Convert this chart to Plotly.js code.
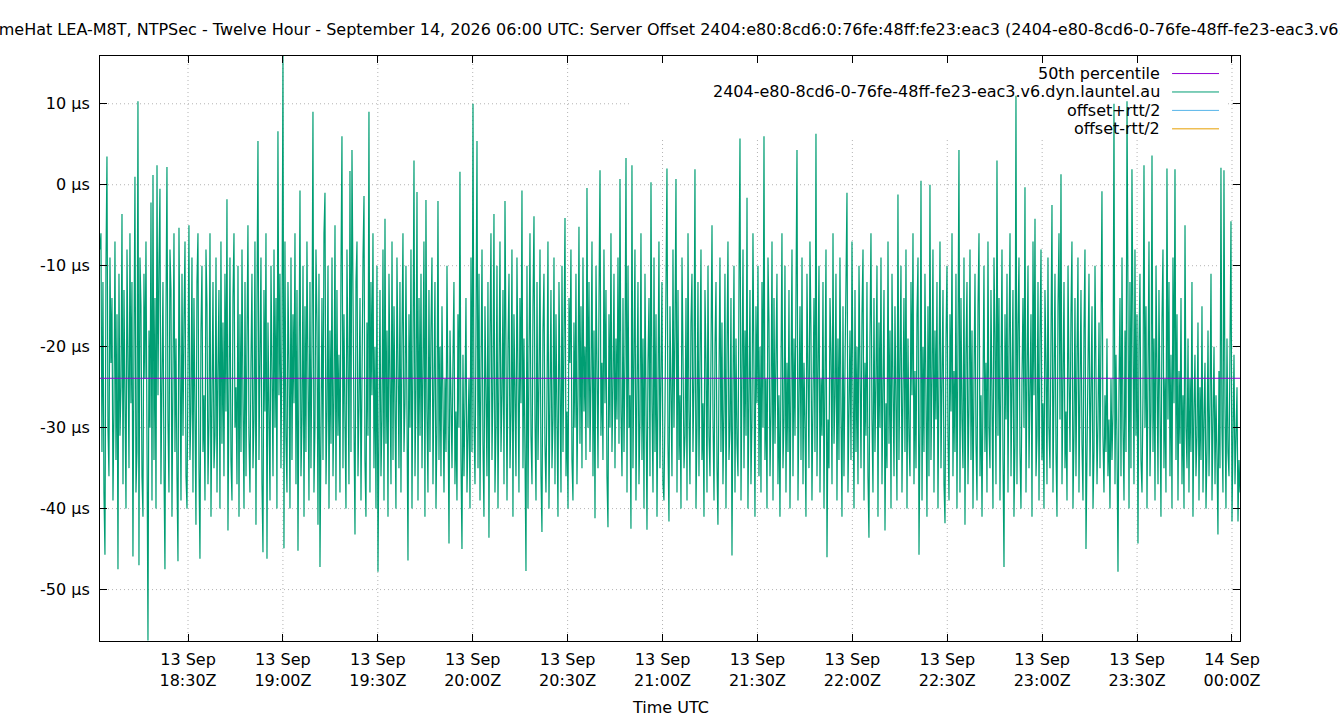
<!DOCTYPE html>
<html>
<head>
<meta charset="utf-8">
<script src="https://cdn.plot.ly/plotly-3.0.1.min.js"></script>
<style>html,body{margin:0;padding:0;background:#fff;}#chart{width:1340px;height:720px;}</style>
</head>
<body>
<div id="chart"></div>
<script>
// ---- data ----
const chartTitle = 'TimeHat LEA-M8T, NTPSec - Twelve Hour - September 14, 2026 06:00 UTC: Server Offset 2404:e80:8cd6:0:76fe:48ff:fe23:eac3 (2404-e80-8cd6-0-76fe-48ff-fe23-eac3.v6.dyn.launtel.au)';
const serverName = '2404-e80-8cd6-0-76fe-48ff-fe23-eac3.v6.dyn.launtel.au';
const legendLabels = ['50th percentile', serverName, 'offset+rtt/2', 'offset-rtt/2'];
const legendColors = ['#9400d3', '#009e73', '#56b4e9', '#e69f00'];
const xAxisTitle = 'Time UTC';
const sampleStartUTC = '2026-09-13T18:02:11Z';
const sampleIntervalSeconds = 18.966;
const median50th = -23.9;
const offsetMicroseconds = [
-8,-6,-33,-12,-38,-45.7,-10,3.5,-30,-36,-9,-22,-14,-39,-28,-7,-34,-16,-47.5,-11,
-31,-25,-3.6,-37,-13,-29,-40,-8,-19,-35,-6,-27,-12,-45.9,-20,1,-38,-33,10.3,-47,
-9,-15,-36,-41,-11,-24,-7,-32,-56.3,-18,-30,-2.2,-39,1.2,-34,-14,-40,2.4,-26,-10,
-0.5,-37,-21,-12,-35,-47.5,-16,2.2,-29,-38,-8,-13,-41,-27,-6,-33,-19,-36,-46.5,-5.3,
-24,-39,-11,-31,-17,-7,-36,-40,-22,-5,-34,-28,-9,-38,-14,-30,-42,-12,-6,-35,
-46.2,-18,-10,-33,-26,-39,-8,-15,-37,-29,-6,-41,-20,-12,-35,-31,-9,-38,-23,-13,
-40,-7,-32,-17,-36,-11,-28,-1.8,-42.7,-21,-9,-34,-39,-14,-6,-30,-25,-37,-10,-41,
-16,-33,-8,-27,-40,-12,-36,-19,-5,-31,-38,-22,-11,-35,-29,-7,-42,-15,5.4,-34,
-20,-9,-37,-45.4,-13,-28,-6,-46.2,-17,-33,-39,-10,-24,-36,-8,-30,-14,-40,6.6,-26,
-11,-35,-19,15.9,-44.9,-7,-31,-38,-12,-22,-40,-9,-34,-16,-27,-6,-37,-13,-45.2,-21,
-0.7,-36,-29,-10,-41,-15,-33,-7,-25,-39,-12,-35,-20,9,-38,-30,-8,-17,-42,-11,
-47.2,-23,-14,-34,-6,-1,-37,-28,-10,-40,-18,-32,-9,-36,-26,-5,-39,-13,-31,-21,
-38,-11,6,-35,-16,-29,-40,-8,-24,-37,1.7,-33,4.3,-19,-30,-43.2,-12,-7,-36,-27,
-14,-39,-21,-9,-1.4,-34,-41,-17,-31,9,-38,-12,-26,-6,-35,-20,-40,-10,-47.8,-23,
-13,-36,-29,-8,-39,-4.2,-32,-18,-41,-11,-25,-37,-7,-34,-15,-28,-40,-9,-22,-35,
-12,-38,-19,-6,-33,-27,-10,-37,-46.4,-16,-30,-8,-40,-21,3,-36,-25,-0.9,-39,-14,
-31,-11,-35,-22,-7,-41,-1.9,-28,-38,-13,-33,-18,-9,-37,-26,-12,-40,-30,-2,-34,
-20,-36,-15,-29,-38,-24,-33,-10,-27,-44.3,-18,-31,-35,-22,-12,-37,-28,-39,-16,-30,
1.6,-34,-45,-21,-36,-27,-14,-38,-31,-24,-40,-9,-33,10,-29,-37,-18,5.4,-35,-11,
-39,-22,-8,-32,-41,-15,-28,-36,-12,-43.6,-19,-6,-34,-25,-3.6,-38,-30,-10,-40,-17,
-7,-33,-26,-13,-37,-2,-31,-39,-20,-11,-35,-28,-8,-41,-16,-24,-36,-9,-30,-38,
-14,-27,-0.7,-35,-19,-33,-47.7,-10,-40,-22,-6,-31,-37,-15,-3.9,-29,-39,-12,-34,-24,
-8,-36,-42.9,-18,-11,-32,-38,-26,-7,-40,-21,-13,-35,-29,-9,-37,-16,-30,-41,-12,
-25,-38,-10,-33,-19,-4.1,-36,-28,-40,-14,-22,-8,-34,-39,-17,-30,-11,-37,-26,-5.2,
-32,-15,-35,-9,-28,-20,-34,-0.4,-30,-12,-33,-24,-7,-36,-18,-41.2,-10,-29,-35,-14,
1.8,-31,-22,-34,-8,-27,-13,-36,-42.3,-16,-30,-6,-33,-25,-11,-35,-19,-29,-9,-32,
0.7,-28,-36,-14,-33,-21,3.3,-38,-10,-30,-26,-42.5,2.4,-35,-17,-8,-39,-24,-12,-37,
-29,-6,-34,-19,-40,-11,-31,-42.6,-22,-14,-36,0.3,-27,-38,-9,-33,-16,-41,-25,-7,
-35,-20,-12,-37,-39,-28,-10,2,-32,-41.6,-15,-24,-36,-8,-30,-18,0.7,-38,-13,-34,
-26,-40,-9,-21,-35,-31,-14,-39,-6,-28,-37,-17,-11,-33,-24,1.9,-40,-30,-12,-36,
-19,-8,-34,-27,-41,-13,-22,-38,-10,-31,-36,-16,-5,-29,-39,-20,-12,-35,-42,-24,
-9,-33,-17,-37,-28,-11,-40,-21,-7,-34,-30,-14,-45.8,-25,-10,-38,-19,-32,-36,-12,
5.7,-39,-26,-8,-35,-18,-31,-1.6,-40,-23,-13,-37,-29,-6,-33,-41,-15,-27,-10,-36,
-20,-38,-12,-30,6,-34,-24,-40,-9,-17,-36,-28,-7,-39,-14,-32,-21,-11,-37,-26,
-41,-16,-6,-35,-29,-10,-38,-22,-33,-13,-40,-25,-8,-36,-19,-31,-12,4.3,-39,-27,
-15,-34,-9,-37,-22,-30,-41,-11,-26,-35,-7,-18,-39,-28,-14,-33,6.3,-36,-20,-10,
-38,-24,-31,-12,-40,-17,-8,-46,-29,-35,-14,-21,-37,-6,-32,-26,-11,-39,-19,-34,
-9,-28,-41,-15,-36,-23,-12,-1,-38,-30,-18,-34,-7,-25,-40,-13,-33,-20,-37,-10,
-27,-35,-16,-8,-39,-22,-31,-12,-36,-43.6,-19,-6,-29,-38,-14,-33,-24,-10,-41,-17,
-30,-9,-37,-21,-13,-42.7,-27,-35,-7,-32,-18,-40,-11,-25,-36,-15,-29,-39,-1.2,-34,
-22,-10,-38,-28,-14,-33,-8,-40,-19,-31,-36,-12,-26,-6,-37,-23,-35,-16,-9,-45.7,
-30,0.5,-39,-20,-33,-11,-27,-41,-15,-36,0,-34,-24,-8,-38,-18,-29,-12,-40,-22,
-7,-35,-26,-13,-37,-41.8,-19,-10,-31,-39,-16,-28,-6,-36,-23,-33,-11,-40,-20,4.3,
-38,-14,-29,-35,-9,-42,-21,-12,-37,-27,-8,-34,-18,-40,-24,-11,-32,-39,-15,-6,
-36,-26,-41,-17,-10,-33,-22,-38,-7,-30,-35,-13,-25,-40,-9,-19,-37,3,-31,-14,
-39,-23,-8,-34,-47.2,-16,-29,-11,-38,-20,-6,-36,-27,-13,-41,-32,11,-37,-18,-9,
-33,-40,-24,-14,-30,-0.3,-38,-21,-10,-35,-28,-16,-41,-7,-26,-4.2,-36,-31,-12,-39,
-19,-8,-34,-27,-40,-13,-22,-37,-9,-30,-35,-17,-2.5,-38,-25,-11,-33,-41,-15,-6,
-29,1.3,-37,-20,-12,-35,-28,-39,-10,-24,-33,-16,-7,-40,-31,-14,-36,-22,-9,-38,
-26,-13,-32,-39,-18,-8,-45,-30,-21,-11,-36,-27,-15,-40,-33,-10,-23,-37,-29,-17,
-35,-22,-0.8,-31,-38,-26,-33,-19,-36,-29,-40,-24,-34,-28,10,-37,-21,-32,-47.8,-25,
-14,-36,-9,-30,-39,-18,-33,10.3,-27,-40,-12,-35,1.9,-23,-37,-8,-31,-16,-44.3,-20,
-11,-34,-38,-26,2.4,-30,-15,-40,-22,-7,-36,-28,3.6,-33,-19,-39,-10,-25,-37,-13,
-31,-41,-17,-8,-35,-24,-38,2,-29,-12,-36,-21,-40,-9,-27,1.9,-34,-16,-39,-23,
-32,-14,-37,-26,-40,-5,-30,-35,-19,-38,-24,-33,-12,-41,-28,-21,-36,-31,-17,-39,
-25,-34,-15,-38,-29,-22,-40,-33,-18,-36,-27,-11,-39,-31,-20,-37,-26,-34,-43.2,-23,
-35,2.1,-30,-38,1.8,-27,-40,-19,-33,-36,-24,-4.5,-41.6,-28,-21,-37,-32,-25,-41.6,-34,
-38
];
const xTickTimes = ['2026-09-13 18:30','2026-09-13 19:00','2026-09-13 19:30','2026-09-13 20:00','2026-09-13 20:30','2026-09-13 21:00','2026-09-13 21:30','2026-09-13 22:00','2026-09-13 22:30','2026-09-13 23:00','2026-09-13 23:30','2026-09-14 00:00'];
const xTickLabels = ['13 Sep<br>18:30Z','13 Sep<br>19:00Z','13 Sep<br>19:30Z','13 Sep<br>20:00Z','13 Sep<br>20:30Z','13 Sep<br>21:00Z','13 Sep<br>21:30Z','13 Sep<br>22:00Z','13 Sep<br>22:30Z','13 Sep<br>23:00Z','13 Sep<br>23:30Z','14 Sep<br>00:00Z'];
const yTickValues = [10, 0, -10, -20, -30, -40, -50];
const yTickLabels = ['10 µs','0 µs','-10 µs','-20 µs','-30 µs','-40 µs','-50 µs'];
const yRange = [-56.35, 15.9];

// ---- build ----
const FONT = 'DejaVu Sans, sans-serif';
const FS = 16;
const t0 = Date.parse(sampleStartUTC);
function fmt(ms){ return new Date(ms).toISOString().slice(0,19).replace('T',' '); }
const times = offsetMicroseconds.map((v,i) => fmt(t0 + i*sampleIntervalSeconds*1000));
const xFirst = times[0], xLast = times[times.length-1];

const traces = [
  {x: times, y: offsetMicroseconds, type:'scatter', mode:'lines', line:{color:legendColors[1], width:1.2}, hoverinfo:'skip', showlegend:false},
  {x: [xFirst, xLast], y: [median50th, median50th], type:'scatter', mode:'lines', line:{color:legendColors[0], width:1}, hoverinfo:'skip', showlegend:false}
];

// key box region (gnuplot clears the grid under the key)
const keyLeft = 0.465, keyRight = 0.9895, keyBottom = 0.86;
const gridLine = {color:'#b4b4b4', width:1, dash:'1px,3px'};
const shapes = [];
const xr0 = Date.parse(xFirst.replace(' ','T')+'Z'), xr1 = Date.parse(xLast.replace(' ','T')+'Z');
xTickTimes.forEach(t => {
  const ms = Date.parse(t.replace(' ','T')+':00Z');
  const frac = (ms - xr0)/(xr1 - xr0);
  const top = (frac > keyLeft && frac < keyRight) ? keyBottom : 1;
  shapes.push({type:'line', layer:'below', xref:'x', yref:'paper', x0:t, x1:t, y0:0, y1:top, line:gridLine});
});
yTickValues.forEach(v => {
  const frac = (v - yRange[0])/(yRange[1]-yRange[0]);
  if (frac > keyBottom) {
    shapes.push({type:'line', layer:'below', xref:'paper', yref:'y', x0:0, x1:keyLeft, y0:v, y1:v, line:gridLine});
    shapes.push({type:'line', layer:'below', xref:'paper', yref:'y', x0:keyRight, x1:1, y0:v, y1:v, line:gridLine});
  } else {
    shapes.push({type:'line', layer:'below', xref:'paper', yref:'y', x0:0, x1:1, y0:v, y1:v, line:gridLine});
  }
});

// legend (gnuplot style: right-aligned text, sample line on the right)
const annotations = [];
const legendRowsY = [0.970, 0.9385, 0.907, 0.8755];
legendLabels.forEach((lab, k) => {
  annotations.push({xref:'paper', yref:'paper', x:0.932, y:legendRowsY[k], xanchor:'right', yanchor:'middle', text:lab, showarrow:false, font:{family:FONT, size:FS, color:'#000'}});
  shapes.push({type:'line', layer:'above', xref:'paper', yref:'paper', x0:0.9404, x1:0.9816, y0:legendRowsY[k], y1:legendRowsY[k], line:{color:legendColors[k], width:1}});
});
annotations.push({xref:'paper', yref:'paper', x:-0.1039, y:1.0, yshift:27, xanchor:'left', yanchor:'middle', text:chartTitle, showarrow:false, font:{family:FONT, size:FS, color:'#000'}});
annotations.push({xref:'paper', yref:'paper', x:0.5, y:0, yshift:-66, xanchor:'center', yanchor:'middle', text:xAxisTitle, showarrow:false, font:{family:FONT, size:FS, color:'#000'}});

const layout = {
  width:1340, height:720,
  margin:{l:100, r:100, t:56, b:79, pad:0},
  paper_bgcolor:'#fff', plot_bgcolor:'#fff',
  font:{family:FONT, size:FS, color:'#000'},
  showlegend:false,
  xaxis:{type:'date', range:[xFirst, xLast], tickmode:'array', tickvals:xTickTimes, ticktext:xTickLabels,
    showgrid:false, zeroline:false, showline:true, linecolor:'#000', linewidth:1, mirror:'ticks',
    ticks:'inside', ticklen:7, tickcolor:'#000', tickfont:{family:FONT, size:FS, color:'#000'},
    ticklabelstandoff:4, automargin:false},
  yaxis:{range:yRange, tickmode:'array', tickvals:yTickValues, ticktext:yTickLabels,
    showgrid:false, zeroline:false, showline:true, linecolor:'#000', linewidth:1, mirror:'ticks',
    ticks:'inside', ticklen:7, tickcolor:'#000', tickfont:{family:FONT, size:FS, color:'#000'},
    ticklabelstandoff:6, automargin:false},
  shapes: shapes,
  annotations: annotations
};
Plotly.newPlot('chart', traces, layout, {staticPlot:true, displayModeBar:false});
</script>
</body>
</html>
